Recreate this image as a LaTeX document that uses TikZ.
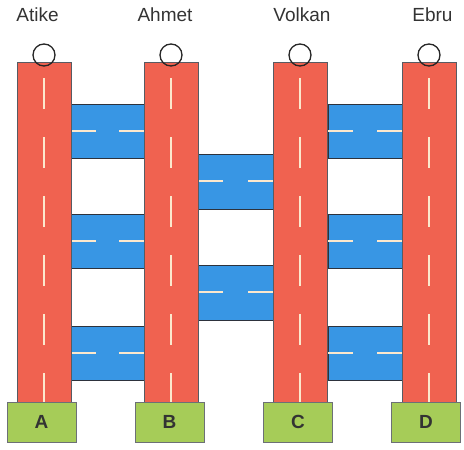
\documentclass[tikz,border=0pt]{standalone}
\usepackage{fontspec}
\setmainfont{Liberation Sans}
\definecolor{roadred}{RGB}{240,98,80}
\definecolor{bridgeblue}{RGB}{56,150,228}
\definecolor{gategreen}{RGB}{166,204,88}
\definecolor{laneline}{RGB}{252,232,205}
\definecolor{edgedark}{RGB}{45,50,60}

\begin{document}
\begin{tikzpicture}[
    x=1pt,y=-1pt,
    road/.style={fill=roadred,draw=edgedark!80,line width=0.6pt},
    bridge/.style={fill=bridgeblue,draw=edgedark,line width=0.7pt},
    lane/.style={draw=laneline,line width=1.8pt},
    roadlane/.style={lane,dash pattern=on 31pt off 28pt},
    gate/.style={draw=edgedark!70,fill=gategreen,line width=0.6pt,
        minimum width=69pt,minimum height=40pt,inner sep=0pt,
        font=\bfseries\fontsize{19}{19}\selectfont,text=black!80},
    start/.style={draw=black!85,line width=1.3pt},
    lbl/.style={inner sep=0pt,text=black!80,font=\fontsize{19}{19}\selectfont}
]
\useasboundingbox (0,0) rectangle (464,450);

% bridges
\foreach \xl/\xr in {71/144,328/402}{
  \foreach \yt in {104,214,326}{
    \draw[bridge] (\xl,\yt) rectangle (\xr,\yt+54);
    \draw[lane] (\xl,\yt+27) -- ++(25,0);
    \draw[lane] (\xr,\yt+27) -- ++(-25,0);
  }
}
\foreach \yt in {154,265}{
  \draw[bridge] (198,\yt) rectangle (273,\yt+55);
  \draw[lane] (198,\yt+27) -- ++(25,0);
  \draw[lane] (273,\yt+27) -- ++(-25,0);
}

% roads
\foreach \xc in {44,171,300,429}{
  \draw[road] (\xc-27,62) rectangle (\xc+27,402);
  \draw[roadlane] (\xc,78) -- (\xc,402);
  \draw[start] (\xc,55) circle (11);
}

% gates
\node[gate] (gA) at (41.5,422) {A};
\node[gate] (gB) at (169.5,422) {B};
\node[gate] (gC) at (298,422) {C};
\node[gate] (gD) at (426,422) {D};

% names
\node[lbl] (atike) at (37.5,15) {Atike};
\node[lbl] (ahmet) at (165,15) {Ahmet};
\node[lbl] (volkan) at (302,15) {Volkan};
\node[lbl] (ebru) at (432.5,15) {Ebru};

\end{tikzpicture}
\end{document}
